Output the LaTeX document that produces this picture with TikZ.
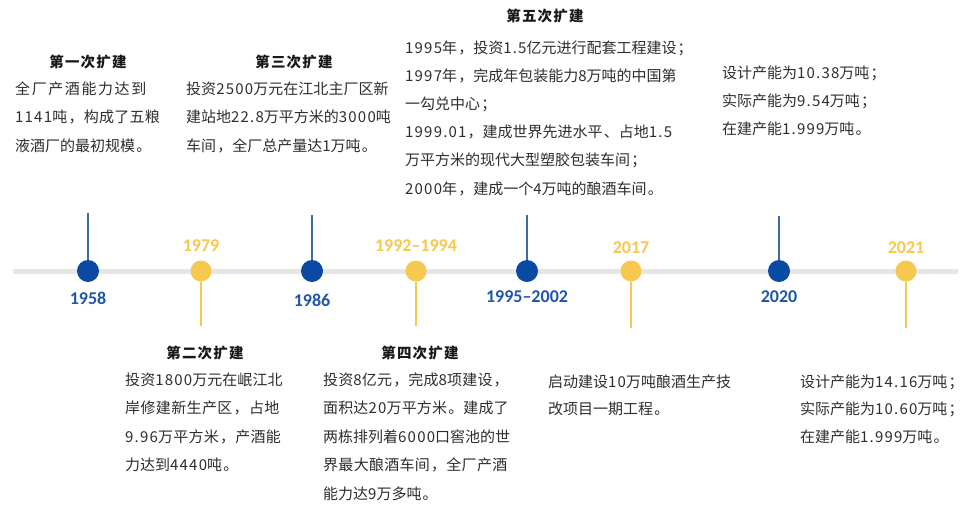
\documentclass[tikz,border=0pt]{standalone}
\usepackage{fontspec}
\setmainfont{Noto Sans CJK SC}[LetterSpace=8]
\newfontfamily\yearfont{Carlito}
\XeTeXlinebreaklocale "zh"
\XeTeXlinebreakskip=0pt plus 3pt
\XeTeXlinebreakpenalty=10000
\definecolor{lgray}{HTML}{E6E6E6}
\definecolor{dblue}{HTML}{0B4AA2}
\definecolor{yblue}{HTML}{1F56A8}
\definecolor{sblue}{HTML}{3D6B9E}
\definecolor{dyellow}{HTML}{F6C850}
\definecolor{txtgray}{HTML}{2E2E2E}
\begin{document}
\begin{tikzpicture}[x=1pt,y=-1pt,
  body/.style={anchor=base west, inner sep=0pt, text=txtgray, font=\fontsize{15}{28.5}\selectfont},
  head/.style={anchor=base, inner sep=0pt, text=black!90, font=\bfseries\fontsize{14.5}{17}\selectfont},
  yearB/.style={inner sep=0pt, text=yblue, font=\yearfont\bfseries\fontsize{18}{20}\selectfont},
  yearY/.style={inner sep=0pt, text=dyellow, font=\yearfont\bfseries\fontsize{18}{20}\selectfont},
  dotB/.style={circle, fill=dblue, minimum size=22pt, inner sep=0pt},
  dotY/.style={circle, fill=dyellow, minimum size=21pt, inner sep=0pt},
  stemB/.style={draw=sblue, line width=2.2pt},
  stemY/.style={draw=dyellow, line width=2.6pt},
  axisline/.style={draw=lgray, line width=5pt}
]
\useasboundingbox (0,0) rectangle (964,504);
\fill[white] (0,0) rectangle (964,504);
% axis
\coordinate (tl) at (13,271);
\coordinate (tr) at (958,271);
\draw[axisline] (tl) -- (tr);
% dots
\node[dotB] (c1958) at (88,271) {};
\node[dotY] (c1979) at (201,271) {};
\node[dotB] (c1986) at (312,271) {};
\node[dotY] (c1992) at (416,271) {};
\node[dotB] (c1995) at (527,271) {};
\node[dotY] (c2017) at (631,271) {};
\node[dotB] (c2020) at (779,271) {};
\node[dotY] (c2021) at (906,271) {};
% stems
\coordinate (s1958) at (88,213);
\coordinate (s1986) at (312,215);
\coordinate (s1995) at (527,215);
\coordinate (s2020) at (779,216);
\coordinate (s1979) at (201,326);
\coordinate (s1992) at (416,326);
\coordinate (s2017) at (631,328);
\coordinate (s2021) at (906,328);
\draw[stemB] (s1958) -- (c1958);
\draw[stemB] (s1986) -- (c1986);
\draw[stemB] (s1995) -- (c1995);
\draw[stemB] (s2020) -- (c2020);
\draw[stemY] (c1979) -- (s1979);
\draw[stemY] (c1992) -- (s1992);
\draw[stemY] (c2017) -- (s2017);
\draw[stemY] (c2021) -- (s2021);
% year labels
\node[yearB] (y1958) at (88,298) {1958};
\node[yearY] (y1979) at (201,246) {1979};
\node[yearB] (y1986) at (312,300) {1986};
\node[yearY] (y1992) at (416,246) {1992–1994};
\node[yearB] (y1995) at (527,297) {1995–2002};
\node[yearY] (y2017) at (631,248) {2017};
\node[yearB] (y2020) at (779,297) {2020};
\node[yearY] (y2021) at (906,248) {2021};
% block 1
\node[head] (h1) at (88,67) {第一次扩建};
\node[body, text width=147pt] (b1) at (15,94) {全厂产酒能力达到\linebreak 1141吨，构成了五粮\linebreak 液酒厂的最初规模。};
% block 3rd
\node[head] (h3) at (294,67) {第三次扩建};
\node[body, text width=203pt] (b3) at (186,94) {投资2500万元在江北主厂区新\linebreak 建站地22.8万平方米的3000吨\linebreak 车间，全厂总产量达1万吨。};
% block 5th
\node[head] (h5) at (545,21) {第五次扩建};
\node[body, text width=300pt, font=\fontsize{15}{28.2}\selectfont] (b5) at (405,53) {1995年，投资1.5亿元进行配套工程建设；\\1997年，完成年包装能力8万吨的中国第\\一勾兑中心；\\1999.01，建成世界先进水平、占地1.5\\万平方米的现代大型塑胶包装车间；\\2000年，建成一个4万吨的酿酒车间。};
% block 2020
\node[body, text width=220pt, font=\fontsize{15}{28}\selectfont] (b2020) at (722,78) {设计产能为10.38万吨；\\实际产能为9.54万吨；\\在建产能1.999万吨。};
% block 2nd
\node[head] (h2) at (205,358) {第二次扩建};
\node[body, text width=158pt] (b2) at (125,385) {投资1800万元在岷江北\linebreak 岸修建新生产区，占地\linebreak 9.96万平方米，产酒能\linebreak 力达到4440吨。};
% block 4th
\node[head] (h4) at (420,358) {第四次扩建};
\node[body, text width=187pt] (b4) at (323,385) {投资8亿元，完成8项建设，\linebreak 面积达20万平方米。建成了\linebreak 两栋排列着6000口窖池的世\linebreak 界最大酿酒车间，全厂产酒\linebreak 能力达9万多吨。};
% block 2017
\node[body, text width=210pt, font=\fontsize{15}{27.5}\selectfont] (b2017) at (548,387) {启动建设10万吨酿酒生产技\\改项目一期工程。};
% block 2021
\node[body, text width=200pt, font=\fontsize{15}{27.5}\selectfont] (b2021) at (800,387) {设计产能为14.16万吨；\\实际产能为10.60万吨；\\在建产能1.999万吨。};
\end{tikzpicture}
\end{document}
